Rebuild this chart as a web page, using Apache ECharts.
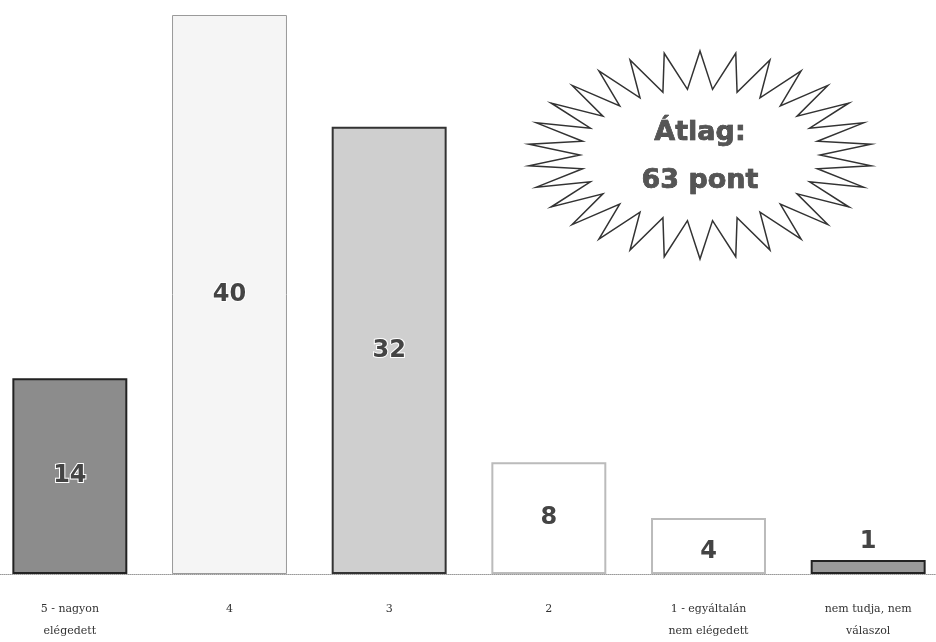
<!DOCTYPE html>
<html><head><meta charset="utf-8">
<script src="https://cdn.jsdelivr.net/npm/echarts@6/dist/echarts.min.js"></script>
<style>html,body{margin:0;padding:0;background:#fff;overflow:hidden}#c{width:958px;height:642px;margin-left:-10px}</style>
</head><body><div id="c"></div>
<script>
const categories = ["5 - nagyon\nelégedett", "4", "3", "2", "1 - egyáltalán\nnem elégedett", "nem tudja, nem\nválaszol"];
const values = [14, 40, 32, 8, 4, 1];
const barColors = ["#8c8c8c", "#f5f5f5", "#cfcfcf", "#ffffff", "#ffffff", "#9a9a9a"];
const borderColors = ["#222", "#9a9a9a", "#333", "#bbbbbb", "#bbbbbb", "#222"];
const averageText = "Átlag:\n63 pont";

const chart = echarts.init(document.getElementById('c'));

// starburst outline (decorative annotation)
const cx = 710, cy = 155, spikes = 30;
const pts = [];
for (let i = 0; i < spikes * 2; i++) {
  const a = Math.PI * i / spikes - Math.PI / 2;
  const outer = i % 2 === 0;
  const rx = outer ? 172 : 120, ry = outer ? 104 : 66;
  pts.push([cx + rx * Math.cos(a), cy + ry * Math.sin(a)]);
}

chart.setOption({
  animation: false,
  grid: { left: 0, right: 0, top: 15, bottom: 68, containLabel: false },
  xAxis: {
    type: 'category', data: categories,
    axisTick: { show: false },
    axisLine: { show: true, lineStyle: { color: '#999', type: 'dotted', width: 1 } },
    axisLabel: { color: '#333', fontFamily: 'DejaVu Serif', fontSize: 11, lineHeight: 22, margin: 24, interval: 0 }
  },
  yAxis: { type: 'value', min: 0, max: 40, show: false, splitLine: { show: false } },
  series: [{
    type: 'bar', barWidth: '72%',
    data: values.map((v, i) => ({
      value: v,
      itemStyle: { color: barColors[i], borderColor: borderColors[i], borderWidth: i === 1 ? 1 : 2 },
      label: i === 5 ? { position: 'top', distance: 6 } : (i === 4 ? { position: 'inside', offset: [0, 6] } : {})
    })),
    label: {
      show: true, position: 'inside',
      fontSize: 24, fontWeight: 'bold', fontFamily: 'DejaVu Sans',
      color: '#444', textBorderColor: '#fff', textBorderWidth: 2
    }
  }],
  graphic: [
    { type: 'polygon', shape: { points: pts }, style: { fill: '#fff', stroke: '#333', lineWidth: 1.5 }, z: 10 },
    { type: 'text', x: cx, y: cy + 2, z: 11,
      style: { text: averageText, fontSize: 27, fontWeight: 'bold', fontFamily: 'DejaVu Sans', fill: '#555',
               stroke: '#111', lineWidth: 0.6, align: 'center', verticalAlign: 'middle', lineHeight: 48 } }
  ]
});
</script></body></html>
